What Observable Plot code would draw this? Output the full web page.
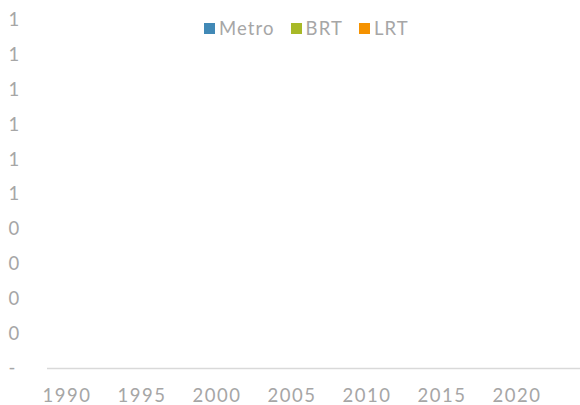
<!DOCTYPE html>
<html>
<head>
<meta charset="utf-8">
<script src="https://cdn.jsdelivr.net/npm/d3@7"></script>
<script src="https://cdn.jsdelivr.net/npm/@observablehq/plot@0.6"></script>
<style>
  html, body { margin: 0; padding: 0; background: #fff; }
  #wrap { position: relative; width: 580px; height: 405px; font-family: Lato, "DejaVu Sans", sans-serif; }
  #legend { position: absolute; left: 204px; top: 17px; display: flex; align-items: center; font-size: 18.5px; letter-spacing: 1.1px; color: #a6a6a6; white-space: nowrap; }
  #legend .item { display: flex; align-items: center; margin-right: 16px; }
  #legend .sw { width: 11px; height: 11px; margin-right: 4px; display: inline-block; }
  svg text { letter-spacing: 1.5px; }
</style>
</head>
<body>
<div id="wrap"><div id="legend"></div></div>
<script>
// Categories (years) and series values (the reference chart shows no bars)
const years = [1990,1991,1992,1993,1994,1995,1996,1997,1998,1999,2000,2001,2002,2003,2004,2005,2006,2007,2008,2009,2010,2011,2012,2013,2014,2015,2016,2017,2018,2019,2020,2021,2022,2023];
const metro = [0,0,0,0,0,0,0,0,0,0,0,0,0,0,0,0,0,0,0,0,0,0,0,0,0,0,0,0,0,0,0,0,0,0];
const brt   = [0,0,0,0,0,0,0,0,0,0,0,0,0,0,0,0,0,0,0,0,0,0,0,0,0,0,0,0,0,0,0,0,0,0];
const lrt   = [0,0,0,0,0,0,0,0,0,0,0,0,0,0,0,0,0,0,0,0,0,0,0,0,0,0,0,0,0,0,0,0,0,0];
const seriesNames = ["Metro", "BRT", "LRT"];
const seriesColors = ["#4189b6", "#a8b927", "#f59200"];
const xTickYears = [1990, 1995, 2000, 2005, 2010, 2015, 2020];
const yTicks = [0, 0.1, 0.2, 0.3, 0.4, 0.5, 0.6, 0.7, 0.8, 0.9, 1];

const rows = [];
years.forEach((yr, i) => {
  rows.push({year: yr, mode: "Metro", value: metro[i]});
  rows.push({year: yr, mode: "BRT", value: brt[i]});
  rows.push({year: yr, mode: "LRT", value: lrt[i]});
});

const chart = Plot.plot({
  width: 580,
  height: 405,
  marginLeft: 47,
  marginRight: 0,
  marginTop: 20,
  marginBottom: 37,
  style: {fontFamily: "Lato, 'DejaVu Sans', sans-serif", fontSize: "18.5px", color: "#a6a6a6", background: "#fff"},
  x: {type: "band", domain: years, padding: 0.3},
  y: {domain: [0, 1]},
  color: {domain: seriesNames, range: seriesColors},
  marks: [
    Plot.barY(rows, Plot.stackY({x: "year", y: "value", fill: "mode", order: seriesNames})),
    Plot.ruleY([0], {stroke: "#d9d9d9", strokeWidth: 1.5}),
    Plot.axisX({ticks: xTickYears, tickSize: 0, tickPadding: 20, tickFormat: d => String(d), label: null, fill: "#a6a6a6"}),
    Plot.axisY({ticks: yTicks, tickSize: 0, tickPadding: 0, textAnchor: "start", dx: -39, tickFormat: v => v === 0 ? "-" : String(Math.round(v)), label: null, fill: "#a6a6a6"})
  ]
});
document.getElementById("wrap").appendChild(chart);

const legend = document.getElementById("legend");
seriesNames.forEach((name, i) => {
  const item = document.createElement("div");
  item.className = "item";
  const sw = document.createElement("span");
  sw.className = "sw";
  sw.style.background = seriesColors[i];
  item.appendChild(sw);
  item.appendChild(document.createTextNode(name));
  legend.appendChild(item);
});
legend.parentNode.appendChild(legend);
</script>
</body>
</html>
